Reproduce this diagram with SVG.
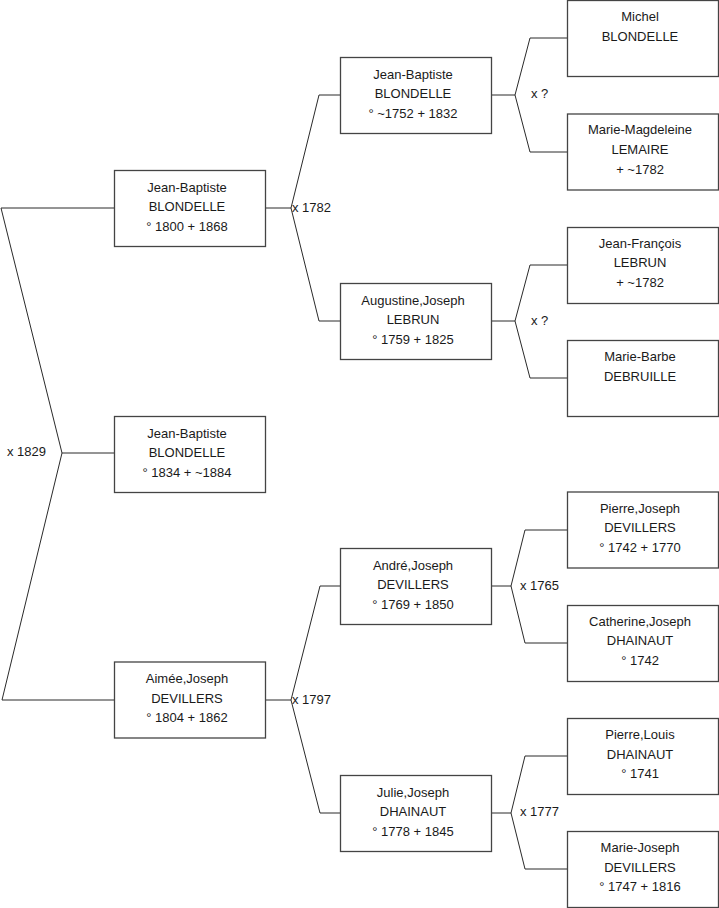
<svg xmlns="http://www.w3.org/2000/svg" width="719" height="908" viewBox="0 0 719 908">
<style>
.box{fill:#fff;stroke:#444;stroke-width:1.3}
.t{font-family:"Liberation Sans",Arial,sans-serif;font-size:13px;fill:#1a1a1a;text-anchor:middle}
.lbl{font-family:"Liberation Sans",Arial,sans-serif;font-size:13px;fill:#1a1a1a}
.c{fill:none;stroke:#2a2a2a;stroke-width:1}
</style>
<rect width="719" height="908" fill="#fff"/>
<g id="connectors">
<path class="c" d="M114.5,208 H1 L62,453 L2,700 H114.5 M62,453 H114.5"/>
<path class="c" d="M265.5,208 H291 M340.5,95 H319 L291,208 L319,321 H340.5"/>
<path class="c" d="M265.5,700 H291 M340.5,586 H320 L291,700 L320,813 H340.5"/>
<path class="c" d="M491.5,95 H515 M567.5,38 H530 L515,95 L530,152 H567.5"/>
<path class="c" d="M491.5,321 H515 M567.5,265 H530 L515,321 L530,378 H567.5"/>
<path class="c" d="M491.5,586 H511 M567.5,530 H525 L511,586 L525,643 H567.5"/>
<path class="c" d="M491.5,813 H511 M567.5,756 H525 L511,813 L525,869 H567.5"/>
<text class="lbl" x="7" y="456">x 1829</text>
<text class="lbl" x="292" y="211.5">x 1782</text>
<text class="lbl" x="292" y="703.5">x 1797</text>
<text class="lbl" x="531" y="98">x ?</text>
<text class="lbl" x="531" y="324.5">x ?</text>
<text class="lbl" x="520" y="589.5">x 1765</text>
<text class="lbl" x="520" y="816">x 1777</text>
</g>
<g id="n_p1"><rect class="box" x="114.5" y="170.5" width="151" height="76"/>
<text class="t" x="187" y="191.5">Jean-Baptiste</text><text class="t" x="187" y="211">BLONDELLE</text><text class="t" x="187" y="230.5">° 1800 + 1868</text></g>
<g id="n_root"><rect class="box" x="114.5" y="416.5" width="151" height="76"/>
<text class="t" x="187" y="437.5">Jean-Baptiste</text><text class="t" x="187" y="457">BLONDELLE</text><text class="t" x="187" y="476.5">° 1834 + ~1884</text></g>
<g id="n_p2"><rect class="box" x="114.5" y="662" width="151" height="76"/>
<text class="t" x="187" y="683">Aimée,Joseph</text><text class="t" x="187" y="702.5">DEVILLERS</text><text class="t" x="187" y="722">° 1804 + 1862</text></g>
<g id="n_gp1"><rect class="box" x="340.5" y="57.5" width="151" height="76"/>
<text class="t" x="413" y="78.5">Jean-Baptiste</text><text class="t" x="413" y="98">BLONDELLE</text><text class="t" x="413" y="117.5">° ~1752 + 1832</text></g>
<g id="n_gp2"><rect class="box" x="340.5" y="283.5" width="151" height="76"/>
<text class="t" x="413" y="304.5">Augustine,Joseph</text><text class="t" x="413" y="324">LEBRUN</text><text class="t" x="413" y="343.5">° 1759 + 1825</text></g>
<g id="n_gp3"><rect class="box" x="340.5" y="548.5" width="151" height="76"/>
<text class="t" x="413" y="569.5">André,Joseph</text><text class="t" x="413" y="589">DEVILLERS</text><text class="t" x="413" y="608.5">° 1769 + 1850</text></g>
<g id="n_gp4"><rect class="box" x="340.5" y="775.5" width="151" height="76"/>
<text class="t" x="413" y="796.5">Julie,Joseph</text><text class="t" x="413" y="816">DHAINAUT</text><text class="t" x="413" y="835.5">° 1778 + 1845</text></g>
<g id="n_g1"><rect class="box" x="567.5" y="0.5" width="151" height="76"/>
<text class="t" x="640" y="21">Michel</text><text class="t" x="640" y="40.5">BLONDELLE</text></g>
<g id="n_g2"><rect class="box" x="567.5" y="114" width="151" height="76"/>
<text class="t" x="640" y="134">Marie-Magdeleine</text><text class="t" x="640" y="153.5">LEMAIRE</text><text class="t" x="640" y="173.5">+ ~1782</text></g>
<g id="n_g3"><rect class="box" x="567.5" y="227.5" width="151" height="76"/>
<text class="t" x="640" y="247.5">Jean-François</text><text class="t" x="640" y="267">LEBRUN</text><text class="t" x="640" y="287">+ ~1782</text></g>
<g id="n_g4"><rect class="box" x="567.5" y="340.5" width="151" height="76"/>
<text class="t" x="640" y="361">Marie-Barbe</text><text class="t" x="640" y="380.5">DEBRUILLE</text></g>
<g id="n_g5"><rect class="box" x="567.5" y="492" width="151" height="76"/>
<text class="t" x="640" y="512.5">Pierre,Joseph</text><text class="t" x="640" y="532">DEVILLERS</text><text class="t" x="640" y="551.5">° 1742 + 1770</text></g>
<g id="n_g6"><rect class="box" x="567.5" y="605.5" width="151" height="76"/>
<text class="t" x="640" y="625.5">Catherine,Joseph</text><text class="t" x="640" y="645">DHAINAUT</text><text class="t" x="640" y="664.5">° 1742</text></g>
<g id="n_g7"><rect class="box" x="567.5" y="718.5" width="151" height="76"/>
<text class="t" x="640" y="739">Pierre,Louis</text><text class="t" x="640" y="758.5">DHAINAUT</text><text class="t" x="640" y="778">° 1741</text></g>
<g id="n_g8"><rect class="box" x="567.5" y="831.5" width="151" height="76"/>
<text class="t" x="640" y="852">Marie-Joseph</text><text class="t" x="640" y="871.5">DEVILLERS</text><text class="t" x="640" y="891">° 1747 + 1816</text></g>
</svg>
